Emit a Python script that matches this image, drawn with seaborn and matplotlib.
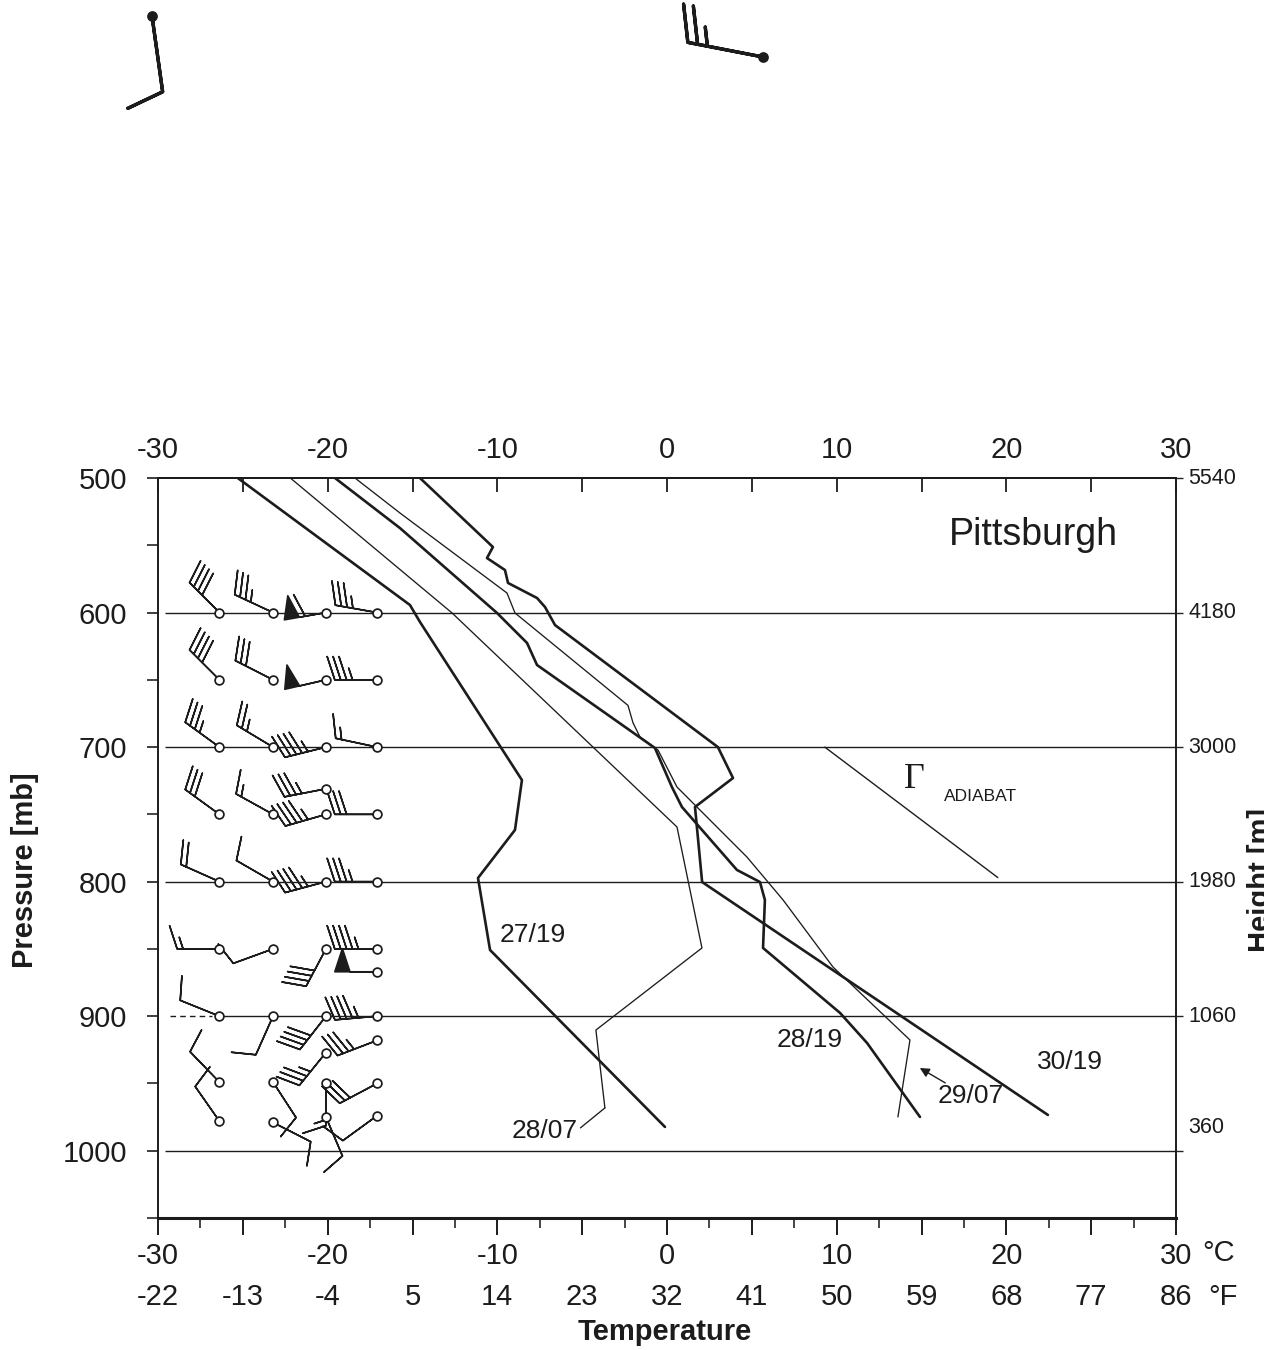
import numpy as np
import pandas as pd
import matplotlib
matplotlib.use("Agg")
import matplotlib.pyplot as plt
import matplotlib.transforms as mtrans
from matplotlib.ticker import FixedLocator, FixedFormatter
import seaborn as sns

# ---------------- data ----------------
t_27_19 = [-25.3, -15.15, -14.56, -8.55, -8.96, -11.14, -10.43, -0.12]
p_27_19 = [500, 594.4, 607.0, 724.5, 761.6, 797.3, 850.8, 982.3]

t_28_07 = [-22.2, -12.67, 0.59, 2.06, -4.19, -3.66]
p_28_07 = [500, 600.3, 759.4, 849.3, 910.3, 968.2]

t_28_19 = [-19.57, -15.74, -10.02, -8.25, -7.66, -0.71, 0.29, 0.88, 4.12, 5.48, 5.77, 5.66, 10.2, 11.79, 14.91]
p_28_19 = [500, 537.2, 600.3, 622.6, 639.0, 700.7, 729.7, 744.5, 791.3, 800.3, 813.6, 849.3, 897.6, 919.9, 974.9]

t_29_07 = [-18.39, -15.74, -9.43, -8.96, -2.3, -2.0, -1.59, -0.53, 0.59, 4.71, 6.84, 9.78, 14.32, 13.61]
p_29_07 = [500, 526.0, 585.5, 600.3, 669.0, 682.1, 692.5, 702.2, 729.7, 781.7, 813.6, 863.4, 917.7, 974.9]

t_30_19 = [-14.56, -10.26, -10.61, -9.55, -9.37, -7.66, -7.19, -6.6, 3.0, 3.89, 1.65, 2.07, 22.45]
p_30_19 = [500, 551.3, 559.5, 568.4, 578.0, 589.2, 595.9, 609.3, 700.0, 723.0, 744.5, 800.3, 973.4]

t_adiabat = [9.3, 19.5]
p_adiabat = [700, 797]

pressure_levels = [500, 600, 700, 800, 900, 1000]
height_labels = ["5540", "4180", "3000", "1980", "1060"]
height_360_p = 983

degc_ticks = list(range(-30, 31, 5))

# wind barbs: station column (x position on the °C axis), pressure, direction (deg), speed (kt)
barb_cols = [-26.38, -23.22, -20.1, -17.09]
barb_col_idx = ([0] * 9) + ([1] * 9) + ([2] * 11) + ([3] * 11)
barb_p = [600, 650, 700, 750, 800, 850, 900, 949, 978,
          600, 650, 700, 750, 800, 850, 900, 949, 979,
          600, 650, 700, 731, 750, 800, 850, 900, 927, 950, 975,
          600, 650, 700, 750, 800, 850, 867, 900, 918, 950, 974]
barb_dir = [315, 315, 306, 306, 294, 270, 292, 316, 325,
            295, 297, 301, 299, 300, 250, 204, 147, 117,
            260, 257, 256, 259, 254, 255, 208, 218, 219, 180, 157,
            280, 270, 282, 270, 270, 270, 270, 265, 249, 242, 234]
barb_spd = [40, 40, 35, 30, 20, 15, 10, 10, 10,
            35, 30, 25, 15, 10, 10, 10, 10, 10,
            60, 50, 45, 35, 45, 45, 40, 40, 35, 15, 10,
            35, 35, 15, 30, 35, 45, 50, 45, 35, 30, 10]

# two large barbs at the top of the page (pixel frame of the page)
top_barb_x = [152, 763]
top_barb_y = [16, 57]
top_barb_dir = [172, 281]
top_barb_spd = [10, 25]

# ---------------- style ----------------
sns.set_theme(style="white")
plt.rcParams["font.family"] = ["Liberation Sans", "DejaVu Sans"]
INK = "#1c1c1c"

W, H = 1264, 1350
fig = plt.figure(figsize=(W / 100, H / 100), dpi=100)
fig.patch.set_facecolor("white")

# overlay for the page-level barbs
ov = fig.add_axes([0, 0, 1, 1])
ov.set_xlim(0, W)
ov.set_ylim(H, 0)
ov.axis("off")

ax = fig.add_axes([158 / W, 132 / H, (1176 - 158) / W, (1218 - 478) / H])
ax.set_facecolor("none")


def to_uv(d, s):
    r = np.deg2rad(np.asarray(d, float))
    s = np.asarray(s, float)
    return -s * np.sin(r), -s * np.cos(r)


# page barbs
u0, v0 = to_uv(top_barb_dir, top_barb_spd)
ov.barbs(top_barb_x, top_barb_y, u0, v0, length=10.5, pivot="tip",
         sizes=dict(height=0.48, spacing=0.13, width=0.3),
         linewidth=2.4, color=INK)
ov.scatter(top_barb_x, top_barb_y, s=45, color=INK, zorder=5)

# soundings
curves = {
    "27/19": (t_27_19, p_27_19, 1.9),
    "28/07": (t_28_07, p_28_07, 0.95),
    "28/19": (t_28_19, p_28_19, 1.9),
    "29/07": (t_29_07, p_29_07, 0.95),
    "30/19": (t_30_19, p_30_19, 1.9),
}
for name, (tt, pp, lw) in curves.items():
    df = pd.DataFrame({"T": tt, "P": pp})
    sns.lineplot(data=df, x="T", y="P", sort=False, estimator=None,
                 color=INK, lw=lw, ax=ax)
sns.lineplot(x=t_adiabat, y=p_adiabat, sort=False, estimator=None,
             color=INK, lw=1.0, ax=ax)

# horizontal pressure lines
solid_levels = [600, 700, 800, 1000]
ax.hlines(solid_levels, -29.6, 30, color=INK, lw=1.0, zorder=1)
ax.hlines([900], -26.3, 30, color=INK, lw=1.0, zorder=1)
ax.hlines([900], -29.3, -26.8, color=INK, lw=1.0, linestyles=(0, (4, 3)), zorder=1)

# wind barbs
bx = [barb_cols[i] for i in barb_col_idx]
bu, bv = to_uv(barb_dir, barb_spd)
ax.barbs(bx, barb_p, bu, bv, length=7.8, pivot="tip",
         sizes=dict(height=0.55, spacing=0.14, width=0.36),
         linewidth=1.15, color=INK, zorder=3)
ax.scatter(bx, barb_p, s=40, facecolors="white", edgecolors=INK,
           linewidths=1.25, zorder=4)

ax.set_xlim(-30, 30)
ax.set_ylim(1050, 500)
ax.set_xlabel("")
ax.set_ylabel("")

for sp in ax.spines.values():
    sp.set_visible(True)
    sp.set_color(INK)
    sp.set_linewidth(1.4)
ax.spines["bottom"].set_linewidth(2.2)

# bottom axis
ax.xaxis.set_major_locator(FixedLocator(degc_ticks))
ax.xaxis.set_major_formatter(FixedFormatter([str(c) if c % 10 == 0 else "" for c in degc_ticks]))
ax.xaxis.set_minor_locator(FixedLocator([c + 2.5 for c in degc_ticks[:-1]]))
ax.tick_params(axis="x", which="major", direction="out", length=12, width=1.4,
               bottom=True, top=False, labelsize=21, pad=5, colors=INK)
ax.tick_params(axis="x", which="minor", direction="out", length=7, width=1.2,
               bottom=True, top=False)

# left axis
ax.yaxis.set_major_locator(FixedLocator(pressure_levels))
ax.yaxis.set_minor_locator(FixedLocator([550, 650, 750, 850, 950, 1050]))
ax.tick_params(axis="y", which="major", direction="out", length=8, width=1.2,
               left=True, right=False, labelsize=21, pad=14, colors=INK)
ax.tick_params(axis="y", which="minor", direction="out", length=8, width=1.2,
               left=True, right=False)

# top axis
sec = ax.secondary_xaxis("top")
sec.xaxis.set_major_locator(FixedLocator(degc_ticks))
sec.xaxis.set_major_formatter(FixedFormatter([str(c) if c % 10 == 0 else "" for c in degc_ticks]))
sec.tick_params(axis="x", direction="in", length=10, width=1.3, labelsize=21, pad=10, colors=INK)
sec.spines["top"].set_linewidth(1.4)

# right axis: heights
ax2 = ax.twinx()
ax2.set_ylim(1050, 500)
ax2.yaxis.set_major_locator(FixedLocator(pressure_levels))
ax2.yaxis.set_major_formatter(FixedFormatter([""] * len(pressure_levels)))
ax2.tick_params(axis="y", direction="out", length=5, width=1.0, right=True, left=False)
ax2.grid(False)
for sp in ax2.spines.values():
    sp.set_visible(False)
ytr = mtrans.blended_transform_factory(ax.transAxes, ax.transData)
for p, lab in zip(pressure_levels[:-1], height_labels):
    ax.text(1.012, p, lab, transform=ytr, ha="left", va="center", fontsize=15.5, color=INK)
ax.text(1.012, height_360_p, "360", transform=ytr, ha="left", va="center", fontsize=15.5, color=INK)

# °F row and unit labels
xtr = mtrans.blended_transform_factory(ax.transData, ax.transAxes)
for c in degc_ticks:
    ax.text(c, -0.107, f"{round(c * 9 / 5 + 32)}", transform=xtr, ha="center", va="center",
            fontsize=21, color=INK)
ax.text(1.026, -0.047, "°C", transform=ax.transAxes, ha="left", va="center", fontsize=21,
        color=INK)
ax.text(1.032, -0.107, "°F", transform=ax.transAxes, ha="left", va="center", fontsize=21,
        color=INK)

# annotations
ax.text(21.6, 542, "Pittsburgh", fontsize=27, ha="center", va="center", color=INK)
ax.text(-7.9, 840, "27/19", fontsize=19, ha="center", va="center", color=INK)
ax.text(8.4, 918, "28/19", fontsize=19, ha="center", va="center", color=INK)
ax.text(23.75, 934, "30/19", fontsize=19, ha="center", va="center", color=INK)
ax.text(-7.2, 985, "28/07", fontsize=19, ha="center", va="center", color=INK)
ax.annotate("", xy=(-3.66, 968.2), xytext=(-5.1, 983),
            arrowprops=dict(arrowstyle="-", color=INK, lw=0.95, shrinkA=0, shrinkB=0))
ax.text(17.9, 959, "29/07", fontsize=19, ha="center", va="center", color=INK)
ax.annotate("", xy=(14.9, 938.5), xytext=(16.4, 949.6),
            arrowprops=dict(arrowstyle="-|>", color=INK, lw=1.0, shrinkA=0, shrinkB=0,
                            mutation_scale=14))
ax.text(14.6, 724, "Γ", fontsize=26, family=["Liberation Serif", "DejaVu Serif"],
        ha="center", va="center", color=INK)
ax.text(18.5, 737, "ADIABAT", fontsize=12.5, ha="center", va="center", color=INK)

# axis titles
fig.text(665 / W, 1 - 1332 / H, "Temperature", fontsize=21, fontweight="bold",
         ha="center", va="center", color=INK)
fig.text(25 / W, 1 - 870 / H, "Pressure [mb]", fontsize=21, fontweight="bold",
         rotation=90, ha="center", va="center", color=INK)
fig.text(1247 / W, 1 - 880 / H, "Height [m]", fontsize=21, fontweight="bold",
         rotation=90, ha="left", va="center", color=INK)

fig.savefig("out.png", dpi=100, facecolor="white")
